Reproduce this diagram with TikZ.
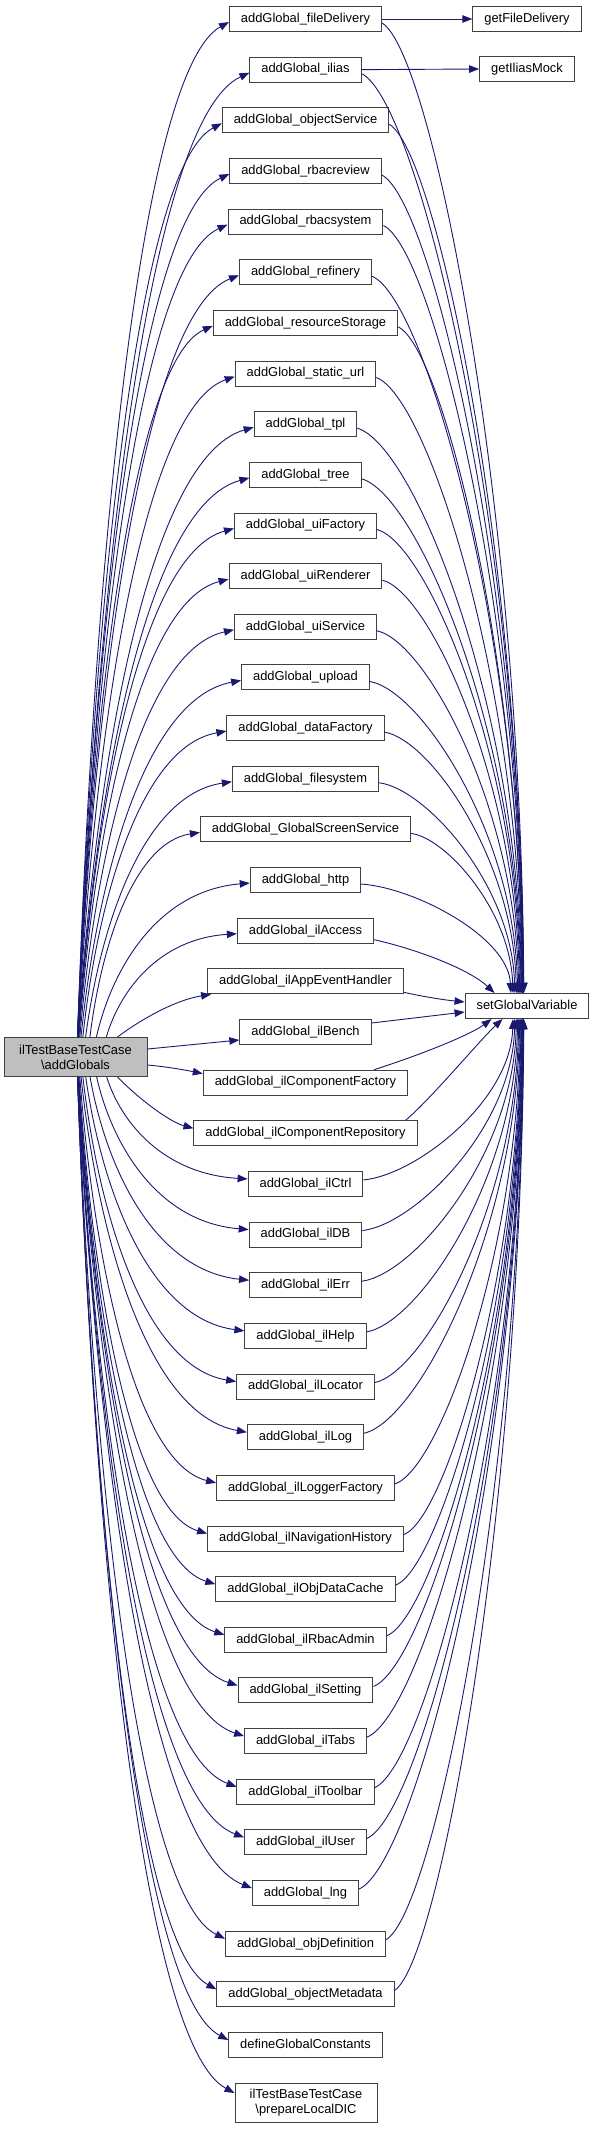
\documentclass[tikz,border=0pt]{standalone}
\usepackage{fontspec}
\setmainfont{Liberation Sans}
\usetikzlibrary{arrows.meta,calc}
\definecolor{edgeblue}{HTML}{191970}
\definecolor{boxline}{HTML}{404040}
\definecolor{boxfill}{HTML}{BFBFBF}
\begin{document}
\begin{tikzpicture}[x=1pt,y=1pt,
 box/.style={draw=boxline, line width=1pt, fill=white, inner xsep=11.5pt, inner ysep=0pt,
   minimum height=25pt, text height=9.3pt, text depth=2.7pt, font=\fontsize{12.9}{15}\selectfont},
 twobox/.style={draw=boxline, line width=1pt, fill=white, align=center, minimum width=142pt,
   minimum height=39pt, inner sep=0pt, font=\fontsize{12.9}{15}\selectfont},
 edge/.style={draw=edgeblue, line width=0.9pt, -{Triangle[length=10pt,width=7.5pt]}}]
\useasboundingbox (0,0) rectangle (595,-2130);

% middle column
\foreach \i/\t in {1/fileDelivery,2/ilias,3/objectService,4/rbacreview,5/rbacsystem,6/refinery,
  7/resourceStorage,8/static\_url,9/tpl,10/tree,11/uiFactory,12/uiRenderer,13/uiService,14/upload,
  15/dataFactory,16/filesystem,17/GlobalScreenService,18/http,19/ilAccess,20/ilAppEventHandler,
  21/ilBench,22/ilComponentFactory,23/ilComponentRepository,24/ilCtrl,25/ilDB,26/ilErr,27/ilHelp,
  28/ilLocator,29/ilLog,30/ilLoggerFactory,31/ilNavigationHistory,32/ilObjDataCache,33/ilRbacAdmin,
  34/ilSetting,35/ilTabs,36/ilToolbar,37/ilUser,38/lng,39/objDefinition,40/objectMetadata}
  \node[box] (n\i) at (305.5,{-(19+(\i-1)*50.65)}) {addGlobal\_\t};
\node[box] (n41) at (305.5,{-(19+40*50.65)}) {defineGlobalConstants};
\node[twobox] (n42) at (306,-2103) {ilTestBaseTestCase\\\textbackslash prepareLocalDIC};

% caller and right column
\node[twobox, fill=boxfill, minimum width=143pt] (L) at (75.5,-1057) {ilTestBaseTestCase\\\textbackslash addGlobals};
\node[box] (S) at (527,-1006) {setGlobalVariable};
\node[box] (G1) at (527,-19) {getFileDelivery};
\node[box] (G2) at (527,-69) {getIliasMock};

% left edges, upward
\foreach \i in {1,...,19}{
  \pgfmathsetmacro\yc{19+(\i-1)*50.65}
  \pgfmathsetmacro\dyy{1037-\yc-3}
  \pgfmathsetmacro\xss{78+45*exp(-(\dyy-50)/120)}
  \path (n\i.west); \pgfgetlastxy{\wx}{\wy}
  \pgfmathsetmacro\xw{\wx}
  \draw[edge] ($(L.north west)+({\xss-4},0)$) .. controls ({\xss+0.1*(\xw-\xss)},{-(\yc+3+0.55*\dyy)}) and ({\xss+0.4*(\xw-\xss)},{-(\yc+3+0.05*\dyy)}) .. ($(n\i.west)+(0,-3)$);
}
% left edges, downward
\foreach \i in {24,...,42}{
  \pgfmathsetmacro\yc{ifthenelse(\i==42,2103,19+(\i-1)*50.65)}
  \pgfmathsetmacro\offs{ifthenelse(\i==42,10,5)}
  \pgfmathsetmacro\dyy{\yc-\offs-1077}
  \pgfmathsetmacro\xss{78+45*exp(-(\dyy-50)/120)}
  \path (n\i.west); \pgfgetlastxy{\wx}{\wy}
  \pgfmathsetmacro\xw{\wx}
  \draw[edge] ($(L.south west)+({\xss-4},0)$) .. controls ({\xss+0.1*(\xw-\xss)},{-(\yc-\offs-0.55*\dyy)}) and ({\xss+0.4*(\xw-\xss)},{-(\yc-\offs-0.05*\dyy)}) .. ($(n\i.west)+(0,\offs)$);
}
% left edges, near ones
\draw[edge] ($(L.north west)+(114,0)$) .. controls (140,-1020) and (175,-1000) .. ($(n20.south west)+(4,0)$);
\draw[edge] ($(L.east)+(0,8)$) -- ($(n21.west)+(0,-8)$);
\draw[edge] ($(L.east)+(0,-8)$) .. controls (170,-1067) and (190,-1071) .. ($(n22.west)+(0,9)$);
\draw[edge] ($(L.south west)+(114,0)$) .. controls (140,-1100) and (170,-1122) .. ($(n23.west)+(0,5)$);

% right edges, from above
\foreach \i in {1,...,18}{
  \pgfmathsetmacro\yc{19+(\i-1)*50.65}
  \path (n\i.east); \pgfgetlastxy{\ex}{\ey}
  \pgfmathsetmacro\xe{\ex}
  \pgfmathsetmacro\dyr{993-\yc}
  \pgfmathsetmacro\xa{505+20*(1-exp(-\dyr/300))}
  \draw[edge] ($(n\i.east)+(0,-4)$) .. controls ({\xe+0.35*(\xa-\xe)},{-(\yc+4+0.03*\dyr)}) and ({\xa-3},{-(993-0.5*\dyr)}) .. ($(S.north west)+({\xa-465},0)$);
}
% right edges, from below
\foreach \i in {24,...,40}{
  \pgfmathsetmacro\yc{19+(\i-1)*50.65}
  \path (n\i.east); \pgfgetlastxy{\ex}{\ey}
  \pgfmathsetmacro\xe{\ex}
  \pgfmathsetmacro\dyr{\yc-1019}
  \pgfmathsetmacro\xa{505+20*(1-exp(-\dyr/300))}
  \draw[edge] ($(n\i.east)+(0,4)$) .. controls ({\xe+0.35*(\xa-\xe)},{-(\yc-4-0.03*\dyr)}) and ({\xa-3},{-(1019+0.5*\dyr)}) .. ($(S.south west)+({\xa-465},0)$);
}
% right edges, near ones
\draw[edge] ($(n19.east)+(0,-9)$) .. controls (420,-950) and (470,-970) .. ($(S.north west)+(30,0)$);
\draw[edge] ($(n20.east)+(0,-11)$) .. controls (425,-997) and (445,-1000) .. ($(S.west)+(0,4)$);
\draw[edge] ($(n21.east)+(0,9)$) -- ($(S.west)+(0,-6)$);
\draw[edge] ($(n22.north east)+(-34,0)$) .. controls (420,-1055) and (470,-1035) .. ($(S.south west)+(27,0)$);
\draw[edge] ($(n23.north east)+(-12,0)$) .. controls (430,-1100) and (480,-1040) .. ($(S.south west)+(38,0)$);

% other calls
\draw[edge] (n1.east) -- (G1.west);
\draw[edge] (n2.east) -- (G2.west);
\end{tikzpicture}
\end{document}
